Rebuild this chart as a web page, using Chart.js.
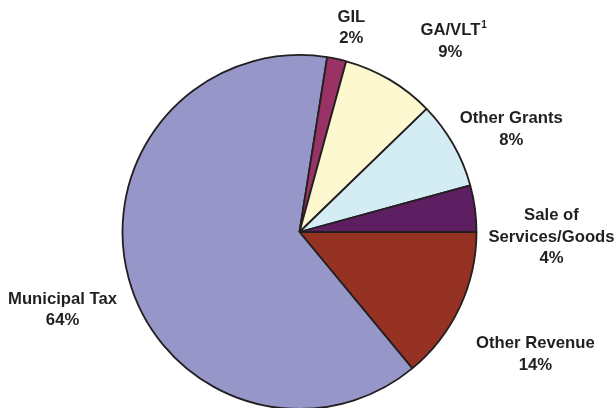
<!DOCTYPE html>
<html>
<head>
<meta charset="utf-8">
<script src="https://cdn.jsdelivr.net/npm/chart.js@4/dist/chart.umd.min.js"></script>
<style>
  html, body { margin: 0; padding: 0; background: #fff; overflow: hidden; }
  .canvas-box { width: 615px; height: 410px; }
</style>
</head>
<body>
<div class="canvas-box">
  <canvas id="revenueChart" width="615" height="410"></canvas>
</div>
<script>
// revenue sources, clockwise from 3 o'clock
const categories = ['Other Revenue', 'Municipal Tax', 'GIL', 'GA/VLT', 'Other Grants', 'Sale of Services/Goods'];
const labelLines = [['Other Revenue'], ['Municipal Tax'], ['GIL'], ['GA/VLT'], ['Other Grants'], ['Sale of', 'Services/Goods']];
const footnotes = ['', '', '', '1', '', ''];
const shares = [14, 63.5, 1.75, 8.5, 8, 4.25];

const sliceColors = ['#963224', '#9696c8', '#993366', '#fdf8d0', '#d4ecf3', '#5e1f62'];

// label placement around the pie: extra distance past the rim, angle nudge (deg)
const labelPad = [88, 72, 35, 67, 59, 75];
const labelNudge = [1.9, -2.6, 2.0, 7.6, 3.5, 8.5];

const outsideLabels = {
  id: 'outsideLabels',
  afterDraw(chart) {
    const ctx = chart.ctx;
    const meta = chart.getDatasetMeta(0);
    const fontSize = 16.7;
    const lineH = 21.7;
    ctx.save();
    ctx.fillStyle = '#231f20';
    ctx.textAlign = 'center';
    ctx.textBaseline = 'alphabetic';
    meta.data.forEach((arc, i) => {
      const p = arc.getProps(['x', 'y', 'startAngle', 'endAngle', 'outerRadius'], true);
      const a = (p.startAngle + p.endAngle) / 2 + labelNudge[i] * Math.PI / 180;
      const d = p.outerRadius + labelPad[i];
      const bx = p.x + Math.cos(a) * d;
      const by = p.y + Math.sin(a) * d;
      const lines = labelLines[i].concat([Math.round(shares[i]) + '%']);
      const top = by - (lines.length - 1) * lineH / 2 + fontSize * 0.358;
      lines.forEach((txt, j) => {
        ctx.font = 'bold ' + fontSize + 'px "Liberation Sans", Arial, sans-serif';
        const y = top + j * lineH;
        ctx.fillText(txt, bx, y);
        if (j === labelLines[i].length - 1 && footnotes[i]) {
          const w = ctx.measureText(txt).width;
          ctx.font = 'bold 10px "Liberation Sans", Arial, sans-serif';
          ctx.textAlign = 'left';
          ctx.fillText(footnotes[i], bx + w / 2 + 1, y - 7);
          ctx.textAlign = 'center';
        }
      });
    });
    ctx.restore();
  }
};

const ctx = document.getElementById('revenueChart').getContext('2d');
new Chart(ctx, {
  type: 'pie',
  data: {
    labels: categories,
    datasets: [{
      data: shares,
      backgroundColor: sliceColors,
      borderColor: '#231f20',
      borderWidth: 1.8
    }]
  },
  options: {
    responsive: false,
    animation: false,
    rotation: 90,
    radius: 177,
    layout: { padding: { top: 54, right: 16, bottom: 0, left: 0 } },
    plugins: {
      legend: { display: false },
      tooltip: { enabled: false }
    }
  },
  plugins: [outsideLabels]
});
</script>
</body>
</html>
